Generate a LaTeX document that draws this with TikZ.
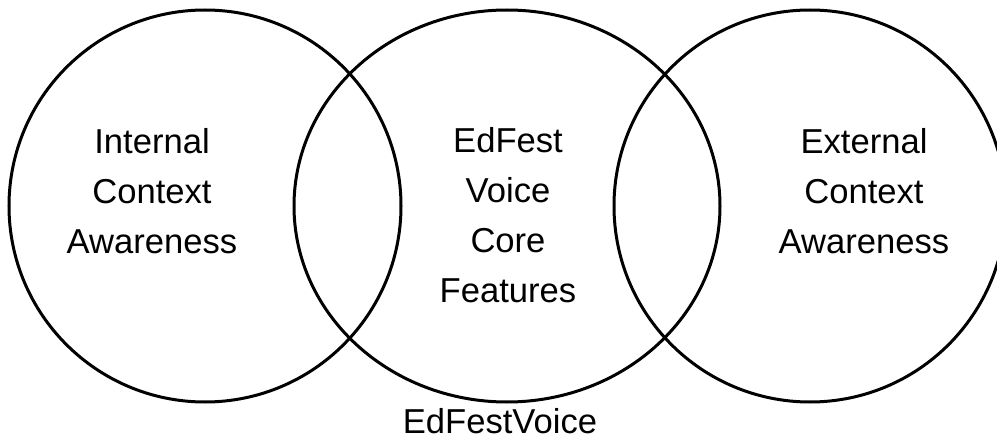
\documentclass[tikz,border=0pt]{standalone}
\usepackage{fontspec}
\setmainfont{Liberation Sans}
\usetikzlibrary{shapes.geometric, positioning}
\tikzset{
    ring/.style={ellipse, draw, line width=3pt, minimum width=392pt, minimum height=392pt, inner sep=0pt},
    label/.style={align=center, inner sep=0pt, font=\fontsize{34.6}{50}\selectfont},
}

\begin{document}
\begin{tikzpicture}[x=1pt, y=-1pt]
    \useasboundingbox (0,0) rectangle (997,441);

    % Circles
    \node (internal) [ring] at (205,206) {};
    \node (core) [ring, minimum width=426pt] at (507,206) {};
    \node (external) [ring] at (810,206) {};

    % Texts
    \node (intext) [label] at (152,191) {Internal\\Context\\Awareness};
    \node (coretext) [label] at (508,215) {EdFest\\Voice\\Core\\Features};
    \node (extext) [label] at (864,191) {External\\Context\\Awareness};
    \node (title) [label] at (500,421) {EdFestVoice};

\end{tikzpicture}
\end{document}
